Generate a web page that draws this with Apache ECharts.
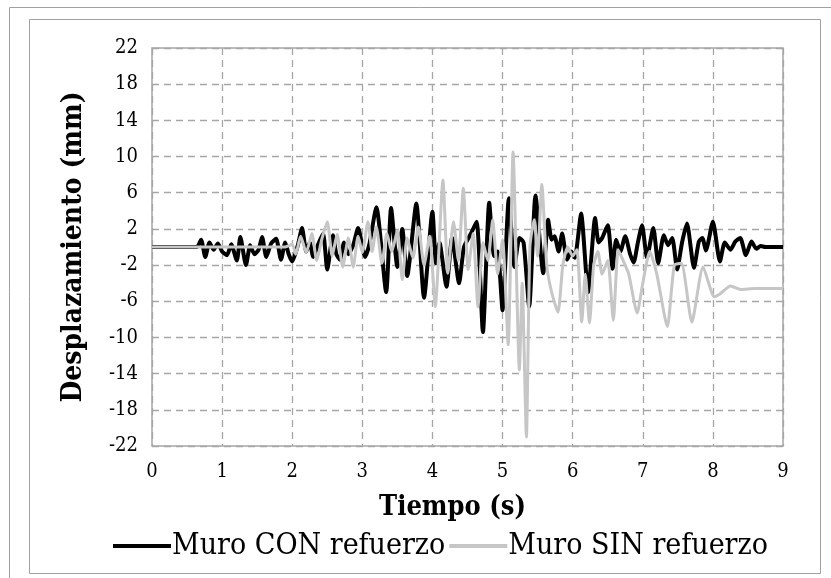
<!DOCTYPE html>
<html lang="es">
<head>
    <meta charset="UTF-8">
    <title>Desplazamiento vs Tiempo</title>
    <script src="https://cdn.jsdelivr.net/npm/echarts@6/dist/echarts.min.js"></script>
    <style>
        html, body { margin: 0; padding: 0; background: #fff; }
        #chart { width: 831px; height: 578px; }
    </style>
</head>
<body>
<div id="chart"></div>
<script>
    // Muro CON refuerzo (negro)
    var conTime = [0, 0.64, 0.7, 0.76, 0.82, 0.88, 0.94, 1.0, 1.07, 1.13, 1.21, 1.26, 1.34, 1.4, 1.46, 1.52, 1.57, 1.63, 1.7, 1.77, 1.84, 1.9, 1.95, 2.0,
        2.08, 2.14, 2.2, 2.25, 2.3, 2.37, 2.44, 2.5, 2.58, 2.63, 2.68, 2.74, 2.8, 2.87, 2.94, 3.04, 3.1, 3.2, 3.34, 3.41, 3.5, 3.57, 3.64, 3.77, 3.88,
        4.0, 4.05, 4.1, 4.2, 4.28, 4.38, 4.45, 4.55, 4.63, 4.72, 4.81, 4.88, 4.93, 5.0, 5.09, 5.17, 5.24, 5.3, 5.38, 5.47, 5.58, 5.65, 5.7, 5.74,
        5.8, 5.85, 5.92, 5.98, 6.03, 6.12, 6.22, 6.32, 6.37, 6.42, 6.5, 6.57, 6.62, 6.68, 6.75, 6.82, 6.87, 6.93, 6.99, 7.06, 7.15, 7.22, 7.3, 7.36,
        7.42, 7.49, 7.56, 7.63, 7.73, 7.8, 7.85, 7.9, 8.0, 8.1, 8.17, 8.25, 8.32, 8.39, 8.47, 8.55, 8.62, 8.68, 8.75, 9.0];
    var conDisp = [0, 0, 0.8, -1.1, 0.5, -0.3, 0.4, -0.5, -0.9, 0.3, -1.5, 1.1, -2.0, 0.2, -0.8, -0.3, 1.1, -1.1, 0.4, 0.9, -1.4, 0.5, -0.8, -1.6,
        0.2, 2.1, -0.5, 0.5, -1.1, 0.3, 1.5, -2.5, 1.3, -0.8, -1.4, 0.5, -0.8, 0.2, 2.1, -1.1, 0.3, 4.4, -5.0, 4.3, -2.2, 2.0, -3.2, 4.8, -5.6,
        3.9, -1.8, 0.5, -4.4, 1.0, -4.0, 0, 1.5, 2.8, -9.4, 4.9, -1.0, -0.5, -7.0, 5.4, -2.2, 1.0, 0.5, -6.6, 5.7, -2.9, 3.0, 0.8, 1.2,
        -0.5, 1.5, -1.4, -0.5, -1.2, 3.7, -5.0, 3.2, 0.5, 1.0, 2.4, -2.4, 0.8, -0.5, 1.2, -0.8, -1.7, 0.5, 2.4, -1.2, 2.1, -1.8, 1.3, 0.2,
        1.0, -2.5, 0.5, 2.6, -2.3, 0.6, 1.0, -0.4, 2.8, -1.6, 0.5, -0.3, 0.6, 1.0, -0.9, 0.6, -0.2, 0.1, 0, 0];

    // Muro SIN refuerzo (gris)
    var sinTime = [0, 1.9, 2.0, 2.05, 2.12, 2.2, 2.28, 2.35, 2.42, 2.5, 2.57, 2.64, 2.72, 2.8, 2.87, 2.94, 3.0, 3.08, 3.14, 3.2, 3.28, 3.35, 3.42,
        3.5, 3.57, 3.64, 3.72, 3.8, 3.88, 3.96, 4.04, 4.15, 4.22, 4.3, 4.37, 4.44, 4.51, 4.58, 4.65, 4.72, 4.79, 4.86, 4.93, 5.0, 5.08, 5.15,
        5.24, 5.28, 5.34, 5.39, 5.45, 5.5, 5.56, 5.63, 5.7, 5.79, 5.86, 5.93, 6.0, 6.06, 6.13, 6.18, 6.24, 6.3, 6.36, 6.42, 6.5, 6.58, 6.65,
        6.72, 6.8, 6.92, 7.0, 7.1, 7.2, 7.35, 7.45, 7.55, 7.7, 7.86, 8.02, 8.1, 8.25, 8.4, 8.6, 9.0];
    var sinDisp = [0, 0, 0.3, -0.8, 1.2, -0.6, 1.5, -1.5, 0.8, 2.8, -1.0, 1.4, -2.2, 1.0, -2.2, 1.2, -0.6, 2.8, -0.5, 2.2, -1.8, 1.5, -0.5,
        1.8, -3.6, 1.0, -1.2, 2.2, -2.0, 1.2, -6.6, 7.4, -2.9, 2.8, -1.5, 6.5, -2.5, 1.5, -6.6, 0.5, -1.5, 3.0, -3.0, 0.8, -10.8, 10.5,
        -13.6, -4.0, -21.0, 0, 3.0, -1.0, 6.9, -2.0, -5.0, -7.2, -2.0, 0, -1.0, -0.3, -8.3, -3.0, -8.4, -2.0, -0.5, -3.0, -1.5, -8.1, -0.3,
        -1.5, -3.0, -7.3, -4.0, -0.5, -3.0, -8.8, -2.0, -1.8, -8.3, -2.2, -5.5, -5.2, -4.3, -4.7, -4.6, -4.6];

    var yTicks = [-22, -18, -14, -10, -6, -2, 2, 6, 10, 14, 18, 22];

    function pairs(t, v) {
        var out = [];
        for (var i = 0; i < t.length; i++) out.push([t[i], v[i]]);
        return out;
    }

    var serif = '"DejaVu Serif Condensed", "DejaVu Serif", serif';
    var gridLine = {show: true, lineStyle: {color: '#a6a6a6', width: 1.3, type: [7, 5]}};

    var option = {
        animation: false,
        backgroundColor: '#fff',
        graphic: [
            {type: 'rect', shape: {x: 29.5, y: 19.5, width: 791, height: 554}, style: {fill: 'none', stroke: '#a0a0a0', lineWidth: 1}},
            {type: 'line', shape: {x1: 9.5, y1: 7.5, x2: 831, y2: 7.5}, style: {stroke: '#a0a0a0', lineWidth: 1}},
            {type: 'line', shape: {x1: 9.5, y1: 7.5, x2: 9.5, y2: 578}, style: {stroke: '#a0a0a0', lineWidth: 1}}
        ],
        grid: {left: 152, right: 48, top: 48, bottom: 132, show: true, borderColor: '#a6a6a6', borderWidth: 1.5},
        legend: {
            left: 108, top: 526,
            itemWidth: 58, itemHeight: 4, itemGap: 4,
            icon: 'rect',
            textStyle: {fontFamily: serif, fontSize: 30, color: '#000', padding: [0, 0, 0, -4]},
            data: ['Muro CON refuerzo', 'Muro SIN refuerzo']
        },
        xAxis: {
            type: 'value', min: 0, max: 9, interval: 1,
            name: 'Tiempo (s)', nameLocation: 'middle', nameGap: 48,
            nameTextStyle: {fontFamily: serif, fontSize: 27, fontWeight: 'bold', color: '#000', padding: [0, 30, 0, 0]},
            axisLine: {show: false}, axisTick: {show: false},
            axisLabel: {margin: 16, fontFamily: serif, fontSize: 20, color: '#000'},
            splitLine: gridLine
        },
        yAxis: {
            type: 'value', min: -22, max: 22, interval: 4,
            name: 'Desplazamiento (mm)', nameLocation: 'middle', nameGap: 64,
            nameTextStyle: {fontFamily: serif, fontSize: 28, fontWeight: 'bold', color: '#000'},
            axisLine: {show: false}, axisTick: {show: false},
            axisLabel: {margin: 14, fontFamily: serif, fontSize: 20, color: '#000',
                formatter: function (v) { return yTicks.indexOf(v) >= 0 ? String(v) : ''; }},
            splitLine: gridLine
        },
        series: [
            {
                name: 'Muro CON refuerzo', type: 'line', showSymbol: false, smooth: 0.2,
                lineStyle: {color: '#000', width: 4}, itemStyle: {color: '#000'},
                data: pairs(conTime, conDisp)
            },
            {
                name: 'Muro SIN refuerzo', type: 'line', showSymbol: false, smooth: 0.2,
                lineStyle: {color: '#c6c6c6', width: 3}, itemStyle: {color: '#c6c6c6'},
                data: pairs(sinTime, sinDisp)
            }
        ]
    };

    var myChart = echarts.init(document.getElementById('chart'));
    myChart.setOption(option);
</script>
</body>
</html>
